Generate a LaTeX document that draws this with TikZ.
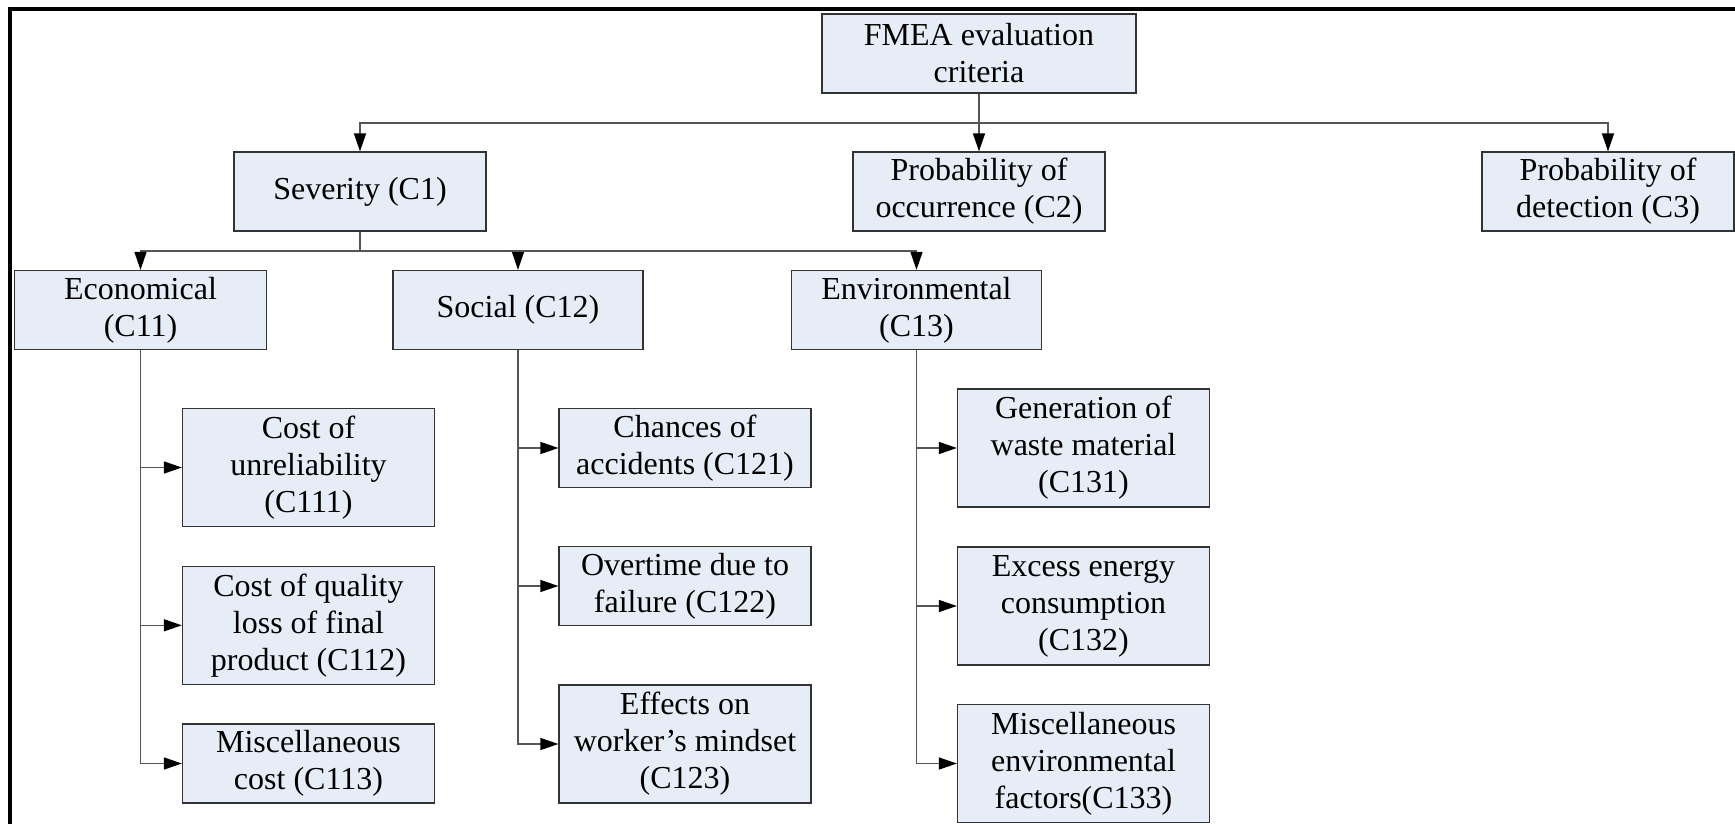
\documentclass[tikz,border=0pt]{standalone}
\usepackage{fontspec}
\setmainfont{Liberation Serif}
\usepackage{tikz}
\usetikzlibrary{arrows.meta}

\definecolor{boxfill}{HTML}{E7EDF7}
\definecolor{linegray}{HTML}{555555}

\begin{document}
\begin{tikzpicture}[x=1pt,y=-1pt,
    crit/.style={draw=black!80, fill=boxfill, line width=1.3pt, align=center, minimum width=252pt, minimum height=79pt, inner sep=0pt, font=\fontsize{32}{37}\selectfont},
    tall/.style={crit, minimum height=118pt},
    arr/.style={draw=linegray, line width=1.4pt, -{Triangle[length=18pt,width=12pt,black]}},
    plain/.style={draw=linegray, line width=1.4pt}]
    \useasboundingbox (0,0) rectangle (1735,824);
    \draw[line width=4pt] (10,824) -- (10,9) -- (1735,9);

    \node[crit, minimum width=314pt] (fmea) at (979,53.5) {FMEA evaluation\\criteria};
    \node[crit] (c1) at (360,191.5) {Severity (C1)};
    \node[crit] (c2) at (979,191.5) {Probability of\\occurrence (C2)};
    \node[crit] (c3) at (1608,191.5) {Probability of\\detection (C3)};

    \node[crit] (c11) at (140.5,310) {Economical\\(C11)};
    \node[crit, minimum width=250pt] (c12) at (518,310) {Social (C12)};
    \node[crit, minimum width=250pt] (c13) at (916.5,310) {Environmental\\(C13)};

    \node[tall] (c111) at (308.5,467.5) {Cost of\\unreliability\\(C111)};
    \node[tall] (c112) at (308.5,625.3) {Cost of quality\\loss of final\\product (C112)};
    \node[crit] (c113) at (308.5,763.5) {Miscellaneous\\cost (C113)};

    \node[crit] (c121) at (685,448) {Chances of\\accidents (C121)};
    \node[crit] (c122) at (685,586) {Overtime due to\\failure (C122)};
    \node[tall] (c123) at (685,744) {Effects on\\worker’s mindset\\(C123)};

    \node[tall] (c131) at (1083.5,448) {Generation of\\waste material\\(C131)};
    \node[tall] (c132) at (1083.5,606) {Excess energy\\consumption\\(C132)};
    \node[tall] (c133) at (1083.5,763.5) {Miscellaneous\\environmental\\factors(C133)};

    \coordinate (topbus) at (979,123);
    \coordinate (sevbus) at (360,251);

    \draw[arr] (fmea) -- (c2);
    \draw[arr] (topbus) -| (c1);
    \draw[arr] (topbus) -| (c3);

    \draw[plain] (c1) -- (sevbus);
    \draw[arr] (sevbus) -| (c11);
    \draw[arr] (sevbus) -| (c12);
    \draw[arr] (sevbus) -| (c13);

    \draw[arr] (c11.south) |- (c111);
    \draw[arr] (c11.south) |- (c112);
    \draw[arr] (c11.south) |- (c113);
    \draw[arr] (c12.south) |- (c121);
    \draw[arr] (c12.south) |- (c122);
    \draw[arr] (c12.south) |- (c123);
    \draw[arr] (c13.south) |- (c131);
    \draw[arr] (c13.south) |- (c132);
    \draw[arr] (c13.south) |- (c133);
  \end{tikzpicture}
\end{document}
